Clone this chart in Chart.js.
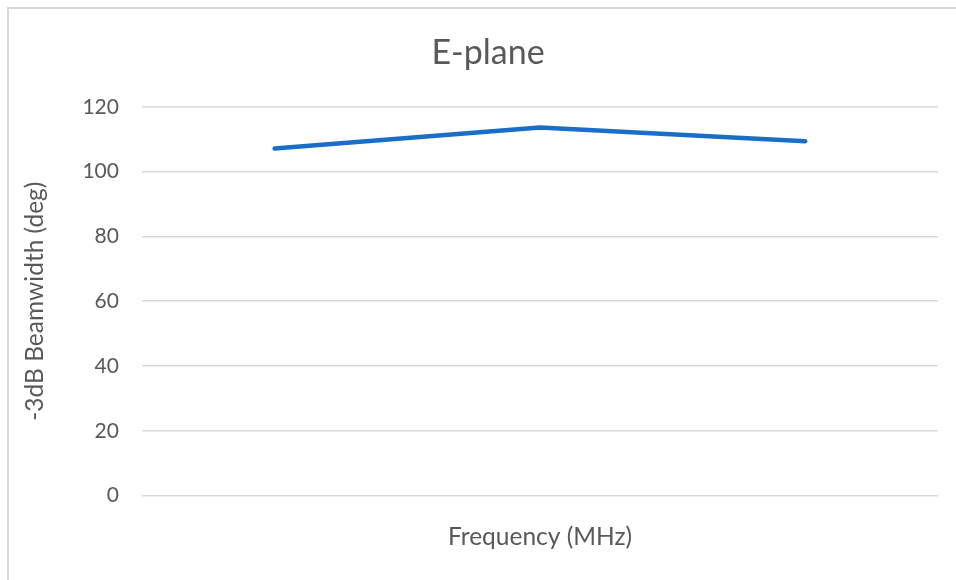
<!DOCTYPE html>
<html>
<head>
<meta charset="utf-8">
<script src="https://cdn.jsdelivr.net/npm/chart.js@4"></script>
<style>
html,body{margin:0;padding:0;background:#fff;overflow:hidden;}
#wrap{position:relative;width:956px;height:580px;}
#frame{position:absolute;left:7px;top:7px;width:980px;height:600px;border:2px solid #d9d9d9;box-sizing:border-box;pointer-events:none;}
canvas{position:absolute;left:0;top:0;}
</style>
</head>
<body>
<div id="wrap">
<canvas id="c" width="956" height="580"></canvas>
<div id="frame"></div>
</div>
<script>
const categories = ['', '', ''];
const beamwidth = [107.1, 113.6, 109.4];
const yTicks = [0, 20, 40, 60, 80, 100, 120];

const txt = '#595959';
new Chart(document.getElementById('c'), {
  type: 'line',
  data: {
    labels: categories,
    datasets: [{
      label: 'E-plane',
      data: beamwidth,
      borderColor: '#1a6ec8',
      borderWidth: 4.5,
      pointRadius: 0,
      borderCapStyle: 'round',
      borderJoinStyle: 'round',
      tension: 0
    }]
  },
  options: {
    responsive: false,
    animation: false,
    layout: { padding: { left: 38, right: 18, top: 22, bottom: 28 } },
    plugins: {
      legend: { display: false },
      tooltip: { enabled: false },
      title: {
        display: true,
        text: 'E-plane',
        color: txt,
        font: { family: 'Lato', size: 34, weight: 'normal' },
        padding: { top: 11, bottom: 33 }
      }
    },
    scales: {
      x: {
        offset: true,
        grid: { display: false, drawTicks: false },
        border: { display: false },
        ticks: { display: false },
        title: {
          display: true,
          text: 'Frequency (MHz)',
          color: txt,
          font: { family: 'Lato', size: 24.5 },
          padding: { top: 27, bottom: 0 }
        }
      },
      y: {
        min: 0,
        max: 120,
        afterBuildTicks: (s) => { s.ticks = yTicks.map(v => ({ value: v })); },
        grid: { color: '#d9d9d9', lineWidth: 1.5, drawTicks: false },
        border: { display: false },
        ticks: {
          color: txt,
          font: { family: 'Lato', size: 21 },
          padding: 23
        },
        title: {
          display: true,
          text: '-3dB Beamwidth (deg)',
          color: txt,
          font: { family: 'Lato', size: 24.5 },
          padding: { top: -18, bottom: 10 }
        }
      }
    }
  }
});
</script>
</body>
</html>
